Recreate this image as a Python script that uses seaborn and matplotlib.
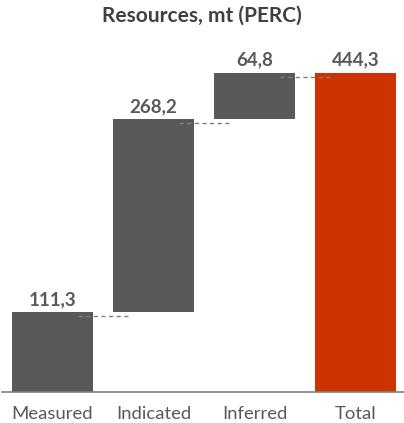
import matplotlib
matplotlib.use("Agg")
import matplotlib.pyplot as plt
import seaborn as sns
import pandas as pd
import numpy as np

categories = ["Measured", "Indicated", "Inferred", "Total"]
values = [111.3, 268.2, 64.8, 444.3]
is_total = [False, False, False, True]
title = "Resources, mt (PERC)"

grey = "#595959"
red = "#CC3300"

# waterfall bases
bottoms = []
run = 0.0
for v, t in zip(values, is_total):
    if t:
        bottoms.append(0.0)
    else:
        bottoms.append(run)
        run += v
tops = [b + v for b, v in zip(bottoms, values)]
colors = [red if t else grey for t in is_total]

df = pd.DataFrame({"category": categories, "value": values})

sns.set_theme(style="white")
plt.rcParams["font.family"] = ["Lato", "DejaVu Sans"]

fig = plt.figure(figsize=(4.04, 4.23), dpi=100)
ax = fig.add_axes([2 / 404, 31 / 423, 404 / 404, 345 / 423])

sns.barplot(data=df, x="category", y="value", order=categories, ax=ax,
            bottom=np.array(bottoms), color=grey, saturation=1,
            edgecolor="none", linewidth=0, width=0.8, errorbar=None, zorder=2)
for p, c in zip(ax.patches, colors):
    p.set_facecolor(c)

# connectors
offset = 0.012 * 480
for i in range(len(values) - 1):
    y = tops[i] - offset
    ax.plot([i + 0.25, i + 0.75], [y, y], ls=(0, (3, 2.5)), color="#7f7f7f",
            lw=1, zorder=3)

for i, (t, v) in enumerate(zip(tops, values)):
    ax.annotate(f"{v:.1f}".replace(".", ","), (i, t), xytext=(0, 3),
                textcoords="offset points", ha="center", va="bottom",
                fontsize=13.5, fontweight="bold", color=grey)

ax.set_xlim(-0.5, 3.5)
ax.set_ylim(0, 480)
ax.set_xlabel("")
ax.set_ylabel("")
ax.set_yticks([])
ax.tick_params(axis="x", length=0, labelsize=13.3, labelcolor=grey, pad=10)
for s in ["top", "left", "right"]:
    ax.spines[s].set_visible(False)
ax.spines["bottom"].set_color("#7f7f7f")
ax.spines["bottom"].set_linewidth(1.2)

fig.text(0.5, 1 - 16 / 423, title, ha="center", va="center",
         fontsize=15, fontweight="bold", color="#404040")

fig.savefig("out.png", dpi=100)
